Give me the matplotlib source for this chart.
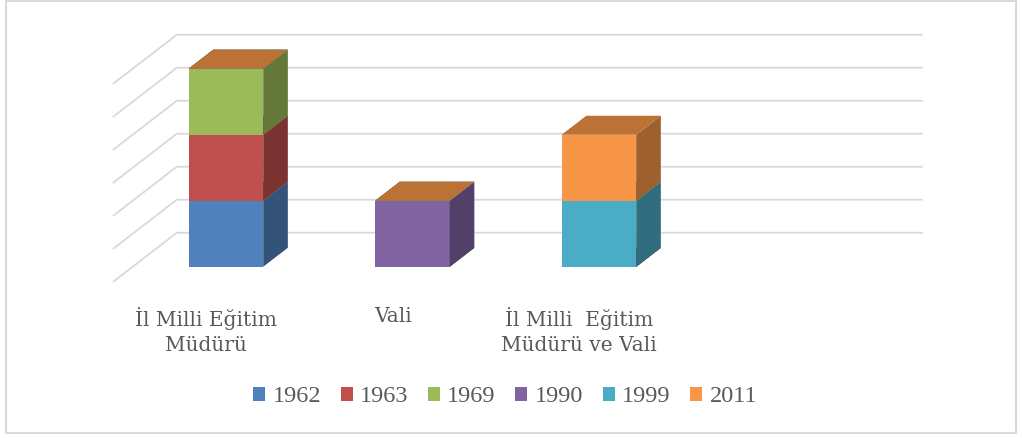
import numpy as np
import matplotlib
matplotlib.use("Agg")
import matplotlib.pyplot as plt
from matplotlib.patches import Polygon, Patch, Rectangle
from matplotlib.colors import to_rgb

# categories and series (one value per category)
categories = ["\u0130l Milli E\u011fitim\nM\u00fcd\u00fcr\u00fc", "Vali",
              "\u0130l Milli  E\u011fitim\nM\u00fcd\u00fcr\u00fc ve Vali"]
years = ["1962", "1963", "1969", "1990", "1999", "2011"]
s1962 = [1, 0, 0]
s1963 = [1, 0, 0]
s1969 = [1, 0, 0]
s1990 = [0, 1, 0]
s1999 = [0, 0, 1]
s2011 = [0, 0, 1]
series = [s1962, s1963, s1969, s1990, s1999, s2011]
colors = ["#4F81BD", "#C0504D", "#9BBB59", "#8064A2", "#4BACC6", "#F79646"]
grid_vals = np.arange(0, 3.01, 0.5)

plt.rcParams['font.family'] = ['DejaVu Serif']
txt = "#595959"
gridc = "#d9d9d9"

# oblique "3d" projection: depth vector and bar depth range
kx, ky = 0.343, 0.747
d0, d1 = 0.31, 0.695
bw = 0.40


def proj(c, v, d):
    return (c + d * kx, v + d * ky)


def shade(col, f):
    r, g, b = to_rgb(col)
    return (r * f, g * f, b * f)


fig = plt.figure(figsize=(10.22, 4.38), dpi=100)
ax = fig.add_axes([0, 0, 1, 1])
ax.set_xlim(-1.105, 4.375)
ax.set_ylim(-2.363, 4.273)
ax.axis("off")

# walls gridlines: left side diagonal + back wall horizontal
ncat = len(categories) + 1
for v in grid_vals:
    pts = [proj(-0.5, v, 0), proj(-0.5, v, 1), proj(ncat - 0.5, v, 1)]
    xs, ys = zip(*pts)
    ax.plot(xs, ys, color=gridc, lw=1.3, solid_capstyle="butt", zorder=1)

# stacked boxes
for c in range(len(categories)):
    base = 0
    for s, col in zip(series, colors):
        h = s[c]
        v0, v1 = base, base + h
        xl, xr = c - bw / 2, c + bw / 2
        if h > 0:
            front = [proj(xl, v0, d0), proj(xr, v0, d0), proj(xr, v1, d0), proj(xl, v1, d0)]
            side = [proj(xr, v0, d0), proj(xr, v0, d1), proj(xr, v1, d1), proj(xr, v1, d0)]
            ax.add_patch(Polygon(front, closed=True, fc=col, ec="none", zorder=2))
            ax.add_patch(Polygon(side, closed=True, fc=shade(col, 0.64), ec="none", zorder=2))
        top = [proj(xl, v1, d0), proj(xr, v1, d0), proj(xr, v1, d1), proj(xl, v1, d1)]
        ax.add_patch(Polygon(top, closed=True, fc=shade(col, 0.76), ec="none", zorder=2))
        base = v1

# category labels at the front edge of the floor
for c, lab in enumerate(categories):
    ax.annotate(lab, xy=proj(c, 0, 0), xytext=(0, -18), textcoords="offset points",
                ha="center", va="top", fontsize=14.5, color=txt, linespacing=1.4)

handles = [Patch(facecolor=col, edgecolor="none", label=y) for y, col in zip(years, colors)]
fig.legend(handles=handles, loc="center", bbox_to_anchor=(505 / 1022, 1 - 397 / 438),
           ncol=6, frameon=False, prop={"family": "Liberation Serif", "size": 17.5},
           handlelength=0.5, handleheight=0.5, handletextpad=0.3, columnspacing=0.8,
           borderpad=0, labelcolor=txt)

fig.add_artist(Rectangle((6 / 1022, 1 - 433 / 438), 1010 / 1022, 432 / 438,
                         transform=fig.transFigure, fill=False, ec=gridc, lw=1.5))

fig.savefig("out.png", dpi=100)
